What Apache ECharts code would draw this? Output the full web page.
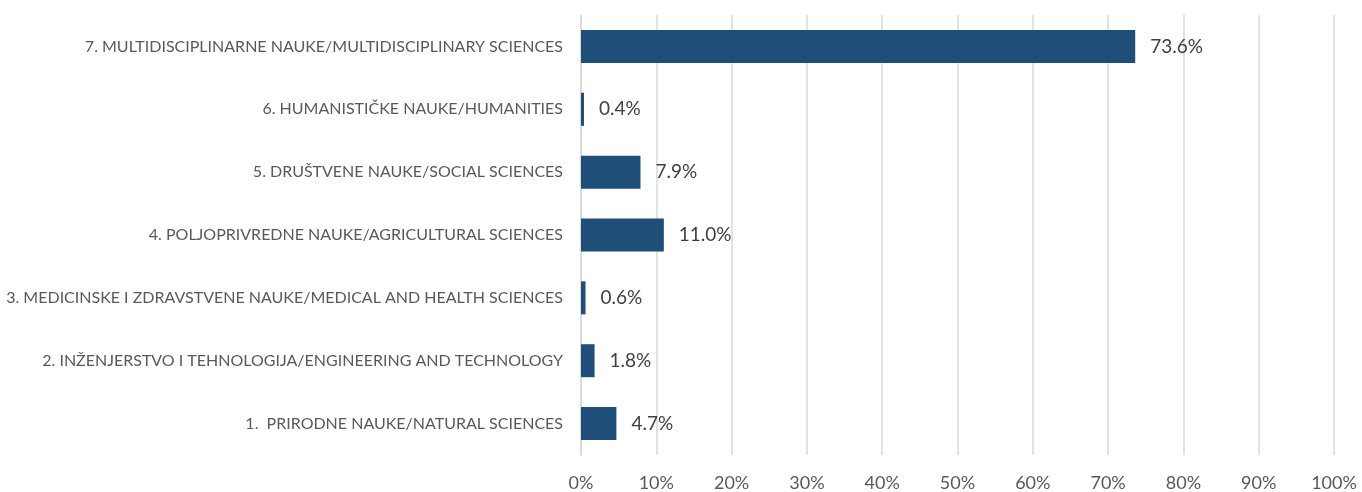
<!DOCTYPE html>
<html>
<head>
<meta charset="utf-8">
<script src="https://cdn.jsdelivr.net/npm/echarts@6/dist/echarts.min.js"></script>
<style>
html,body{margin:0;padding:0;background:#fff;}
#chart{width:1362px;height:492px;}
</style>
</head>
<body>
<div id="chart"></div>
<script>
const categories = [
  "1.  PRIRODNE NAUKE/NATURAL SCIENCES",
  "2. INŽENJERSTVO I TEHNOLOGIJA/ENGINEERING AND TECHNOLOGY",
  "3. MEDICINSKE I ZDRAVSTVENE NAUKE/MEDICAL AND HEALTH SCIENCES",
  "4. POLJOPRIVREDNE NAUKE/AGRICULTURAL SCIENCES",
  "5. DRUŠTVENE NAUKE/SOCIAL SCIENCES",
  "6. HUMANISTIČKE NAUKE/HUMANITIES",
  "7. MULTIDISCIPLINARNE NAUKE/MULTIDISCIPLINARY SCIENCES"
];
const values = [4.7, 1.8, 0.6, 11.0, 7.9, 0.4, 73.6];
const FONT = "Lato";

const chart = echarts.init(document.getElementById('chart'), null, {renderer: 'canvas'});
chart.setOption({
  animation: false,
  backgroundColor: '#ffffff',
  grid: {left: 581, right: 28, top: 15, bottom: 36, containLabel: false},
  xAxis: {
    type: 'value', min: 0, max: 100, interval: 10,
    axisLine: {show: false}, axisTick: {show: false},
    splitLine: {show: true, lineStyle: {color: '#D9D9D9', width: 1.5}},
    axisLabel: {formatter: '{value}%', color: '#595959', fontFamily: FONT, fontSize: 18, margin: 19}
  },
  yAxis: {
    type: 'category', data: categories,
    axisLine: {show: true, lineStyle: {color: '#D9D9D9', width: 1.5}},
    axisTick: {show: false},
    axisLabel: {color: '#595959', fontFamily: FONT, fontSize: 16, margin: 18}
  },
  series: [{
    type: 'bar', data: values, barWidth: 33,
    itemStyle: {color: '#1F4E79'},
    label: {show: true, position: 'right', distance: 15, formatter: p => p.value.toFixed(1) + '%',
      color: '#404040', fontFamily: FONT, fontSize: 19}
  }]
});
</script>
</body>
</html>
